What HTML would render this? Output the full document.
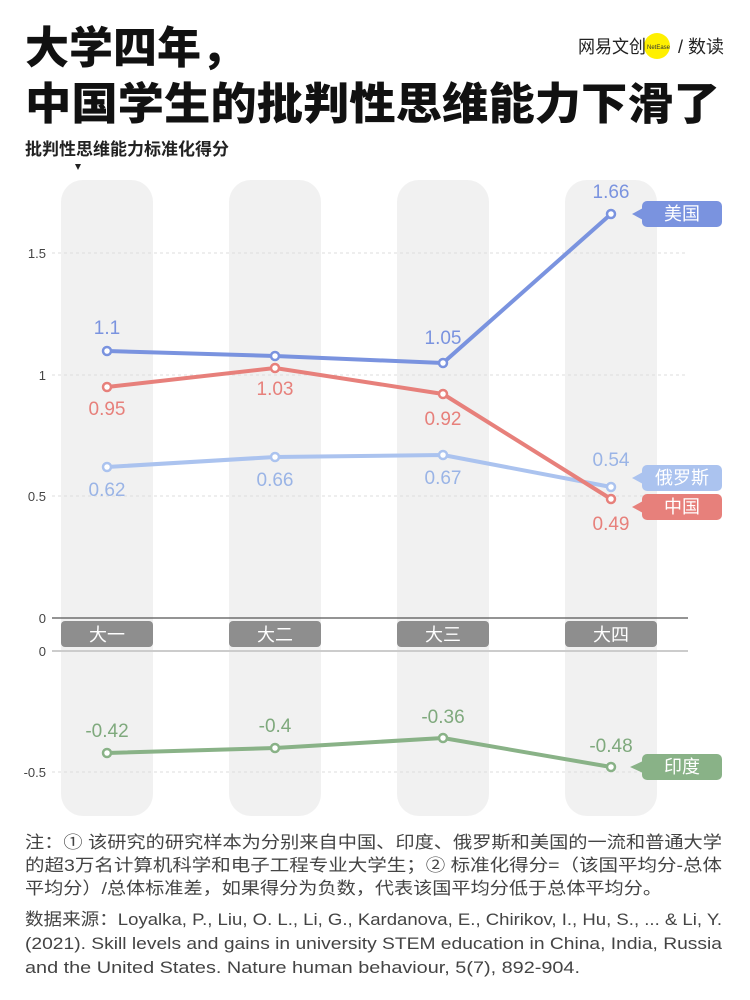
<!DOCTYPE html>
<html><head><meta charset="utf-8"><style>
body{margin:0;background:#fff;}
svg{display:block;font-family:"Liberation Sans","Noto Sans CJK SC",sans-serif;}
</style></head><body>
<svg width="750" height="1000" viewBox="0 0 750 1000">
<text x="25" y="63" font-size="44" font-weight="900" fill="#111">大学四年，</text>
<text x="25" y="119" font-size="44" font-weight="900" fill="#111" textLength="695" lengthAdjust="spacingAndGlyphs">中国学生的批判性思维能力下滑了</text>
<circle cx="657" cy="46" r="13" fill="#fff000"/>
<text x="578" y="53" font-size="18" fill="#222" textLength="68" lengthAdjust="spacingAndGlyphs">网易文创</text>
<text x="647" y="49" font-size="6" fill="#333">NetEase</text>
<text x="678" y="53" font-size="18" fill="#222">/ 数读</text>
<text x="25" y="155" font-size="17" font-weight="bold" fill="#222">批判性思维能力标准化得分</text>
<polygon points="75,164 81,164 78,170" fill="#222"/>
<g fill="#f1f1f1">
<rect x="61" y="180" width="92" height="636" rx="22"/>
<rect x="229" y="180" width="92" height="636" rx="22"/>
<rect x="397" y="180" width="92" height="636" rx="22"/>
<rect x="565" y="180" width="92" height="636" rx="22"/>
</g>
<g stroke="#ddd" stroke-dasharray="3,3" stroke-width="1">
<line x1="52" y1="253" x2="688" y2="253"/><line x1="52" y1="375" x2="688" y2="375"/>
<line x1="52" y1="496" x2="688" y2="496"/><line x1="52" y1="772" x2="688" y2="772"/>
</g>
<line x1="52" y1="618" x2="688" y2="618" stroke="#555" stroke-width="1.2"/>
<line x1="52" y1="651" x2="688" y2="651" stroke="#ccc" stroke-width="2"/>
<g font-size="13" fill="#444" text-anchor="end">
<text x="46" y="258">1.5</text><text x="46" y="380">1</text><text x="46" y="501">0.5</text>
<text x="46" y="623">0</text><text x="46" y="656">0</text><text x="46" y="777">-0.5</text>
</g>
<g fill="#8e8e8e">
<rect x="61" y="621" width="92" height="26" rx="4"/><rect x="229" y="621" width="92" height="26" rx="4"/>
<rect x="397" y="621" width="92" height="26" rx="4"/><rect x="565" y="621" width="92" height="26" rx="4"/>
</g>
<g font-size="18" fill="#fff" text-anchor="middle">
<text x="107" y="641">大一</text><text x="275" y="641">大二</text><text x="443" y="641">大三</text><text x="611" y="641">大四</text>
</g>
<g fill="none" stroke-width="4" stroke-linejoin="round">
<polyline points="107,467 275,457 443,455 611,487" stroke="#abc3ef"/>
<polyline points="107,351 275,356 443,363 611,214" stroke="#7a93df"/>
<polyline points="107,387 275,368 443,394 611,499" stroke="#e7807b"/>
<polyline points="107,753 275,748 443,738 611,767" stroke="#89b287"/>
</g>
<g fill="#fff" stroke-width="2.5">
<g stroke="#abc3ef"><circle cx="107" cy="467" r="4"/><circle cx="275" cy="457" r="4"/><circle cx="443" cy="455" r="4"/><circle cx="611" cy="487" r="4"/></g>
<g stroke="#7a93df"><circle cx="107" cy="351" r="4"/><circle cx="275" cy="356" r="4"/><circle cx="443" cy="363" r="4"/><circle cx="611" cy="214" r="4"/></g>
<g stroke="#e7807b"><circle cx="107" cy="387" r="4"/><circle cx="275" cy="368" r="4"/><circle cx="443" cy="394" r="4"/><circle cx="611" cy="499" r="4"/></g>
<g stroke="#89b287"><circle cx="107" cy="753" r="4"/><circle cx="275" cy="748" r="4"/><circle cx="443" cy="738" r="4"/><circle cx="611" cy="767" r="4"/></g>
</g>
<g font-size="19" text-anchor="middle">
<g fill="#7a93df"><text x="107" y="334">1.1</text><text x="443" y="344">1.05</text><text x="611" y="198">1.66</text></g>
<g fill="#e7807b"><text x="107" y="415">0.95</text><text x="275" y="395">1.03</text><text x="443" y="425">0.92</text><text x="611" y="530">0.49</text></g>
<g fill="#9ab4e6"><text x="107" y="496">0.62</text><text x="275" y="486">0.66</text><text x="443" y="484">0.67</text><text x="611" y="466">0.54</text></g>
<g fill="#7fa97d"><text x="107" y="737">-0.42</text><text x="275" y="732">-0.4</text><text x="443" y="723">-0.36</text><text x="611" y="752">-0.48</text></g>
</g>
<g font-size="18" fill="#fff" text-anchor="middle">
<rect x="642" y="201" width="80" height="26" rx="5" fill="#7a93df"/><polygon points="632,214 643,208 643,220" fill="#7a93df"/><text x="682" y="220">美国</text>
<rect x="642" y="465" width="80" height="26" rx="5" fill="#abc3ef"/><polygon points="632,478 643,472 643,484" fill="#abc3ef"/><text x="682" y="484">俄罗斯</text>
<rect x="642" y="494" width="80" height="26" rx="5" fill="#e7807b"/><polygon points="632,507 643,501 643,513" fill="#e7807b"/><text x="682" y="513">中国</text>
<rect x="642" y="754" width="80" height="26" rx="5" fill="#89b287"/><polygon points="630,767 643,761 643,773" fill="#89b287"/><text x="682" y="773">印度</text>
</g>
<g font-size="17" fill="#444">
<text x="25" y="848" textLength="697" lengthAdjust="spacingAndGlyphs">注：① 该研究的研究样本为分别来自中国、印度、俄罗斯和美国的一流和普通大学</text>
<text x="25" y="871" textLength="697" lengthAdjust="spacingAndGlyphs">的超3万名计算机科学和电子工程专业大学生；② 标准化得分=（该国平均分-总体</text>
<text x="25" y="894" textLength="637" lengthAdjust="spacingAndGlyphs">平均分）/总体标准差，如果得分为负数，代表该国平均分低于总体平均分。</text>
<text x="25" y="925" textLength="697" lengthAdjust="spacingAndGlyphs">数据来源：Loyalka, P., Liu, O. L., Li, G., Kardanova, E., Chirikov, I., Hu, S., ... &amp; Li, Y.</text>
<text x="25" y="949" textLength="697" lengthAdjust="spacingAndGlyphs">(2021). Skill levels and gains in university STEM education in China, India, Russia</text>
<text x="25" y="973" textLength="555" lengthAdjust="spacingAndGlyphs">and the United States. Nature human behaviour, 5(7), 892-904.</text>
</g>
</svg>
</body></html>
